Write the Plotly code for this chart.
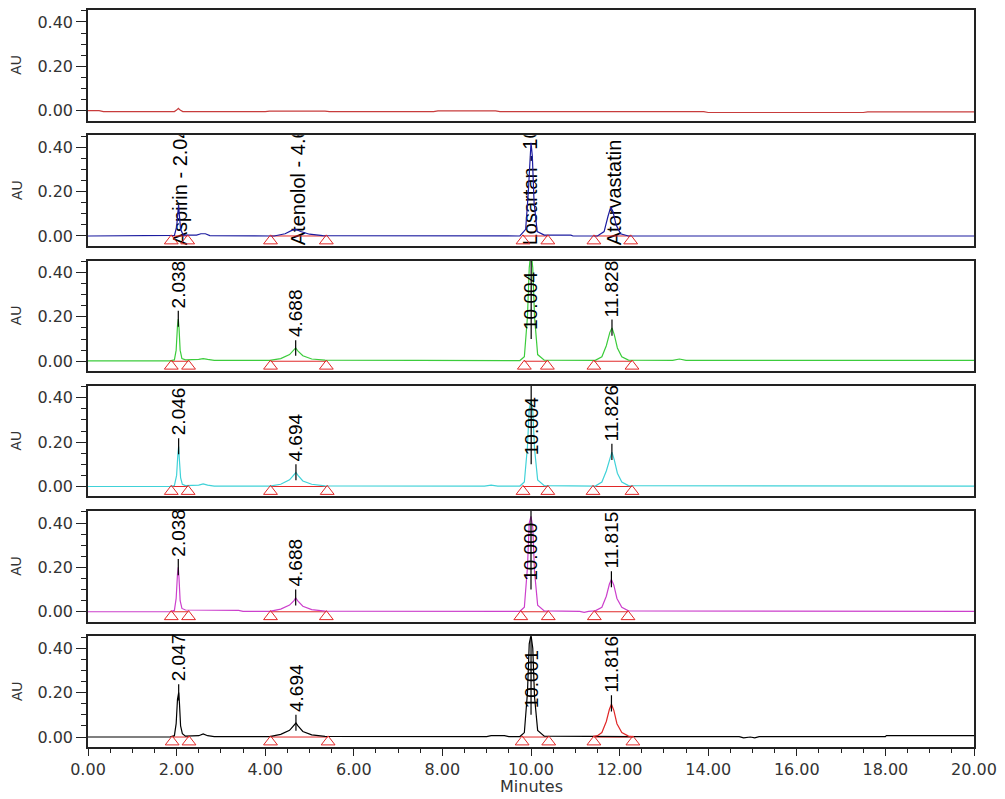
import plotly.graph_objects as go
from plotly.subplots import make_subplots

# ---------------- data ----------------
# Panel 1 (red) chromatogram
p1_t = [0.0, 0.25, 0.35, 1.95, 2.0, 2.04, 2.08, 2.14, 4.0, 4.1, 5.35, 5.45, 7.8, 7.9, 9.2, 9.3, 13.9, 14.0, 17.5, 17.6, 20.0]
p1_v = [0.0, 0.0, -0.004, -0.004, 0.003, 0.011, 0.003, -0.004, -0.004, -0.002, -0.002, -0.004, -0.004, -0.001, -0.001, -0.004, -0.004, -0.008, -0.008, -0.005, -0.005]

# Panel 2 (blue)
p2_t = [0.0, 1.85, 1.95, 2.0, 2.03, 2.045, 2.06, 2.09, 2.15, 2.45, 2.55, 2.65, 2.75, 4.2, 4.45, 4.6, 4.69, 4.8, 5.0, 5.3,
        9.75, 9.88, 9.94, 9.98, 10.0, 10.03, 10.07, 10.14, 10.3, 10.9, 10.95, 11.5, 11.65, 11.74, 11.8, 11.85, 11.92, 12.02, 12.2, 20.0]
p2_v = [0.0, 0.0, 0.003, 0.04, 0.12, 0.14, 0.10, 0.03, 0.004, 0.004, 0.01, 0.01, 0.002, 0.0, 0.01, 0.025, 0.03, 0.02, 0.008, 0.002,
        0.0, 0.03, 0.2, 0.38, 0.42, 0.36, 0.15, 0.02, 0.004, 0.004, 0.0, 0.0, 0.02, 0.09, 0.13, 0.11, 0.05, 0.01, 0.0, 0.0]

# Panel 3 (green)
p3_t = [0.0, 1.85, 1.95, 1.99, 2.02, 2.038, 2.055, 2.08, 2.12, 2.2, 2.5, 2.6, 2.7, 2.85, 4.1, 4.35, 4.55, 4.65, 4.688, 4.73, 4.85, 5.05, 5.35,
        9.75, 9.85, 9.92, 9.96, 10.0, 10.04, 10.08, 10.15, 10.3, 11.45, 11.6, 11.7, 11.78, 11.828, 11.88, 11.95, 12.05, 12.2, 13.2, 13.35, 13.5, 20.0]
p3_v = [0.002, 0.002, 0.006, 0.05, 0.16, 0.19, 0.15, 0.05, 0.012, 0.006, 0.008, 0.012, 0.008, 0.004, 0.004, 0.012, 0.03, 0.05, 0.06, 0.048, 0.025, 0.01, 0.005,
        0.003, 0.02, 0.2, 0.42, 0.5, 0.42, 0.2, 0.03, 0.005, 0.004, 0.02, 0.07, 0.13, 0.15, 0.12, 0.06, 0.02, 0.005, 0.004, 0.01, 0.004, 0.004]

# Panel 4 (cyan)
p4_t = [0.0, 1.85, 1.95, 2.0, 2.03, 2.046, 2.06, 2.09, 2.13, 2.2, 2.5, 2.6, 2.7, 2.85, 4.1, 4.35, 4.55, 4.65, 4.694, 4.74, 4.85, 5.05, 5.35,
        8.95, 9.1, 9.25, 9.75, 9.85, 9.92, 9.96, 10.004, 10.04, 10.08, 10.15, 10.3, 11.45, 11.6, 11.7, 11.78, 11.826, 11.88, 11.95, 12.05, 12.2, 20.0]
p4_v = [0.0, 0.0, 0.004, 0.05, 0.15, 0.18, 0.13, 0.04, 0.01, 0.004, 0.006, 0.012, 0.006, 0.002, 0.002, 0.01, 0.03, 0.05, 0.063, 0.05, 0.025, 0.01, 0.003,
        0.002, 0.006, 0.002, 0.002, 0.02, 0.18, 0.35, 0.39, 0.34, 0.17, 0.03, 0.004, 0.002, 0.02, 0.07, 0.13, 0.155, 0.12, 0.06, 0.02, 0.004, 0.002]

# Panel 5 (magenta)
p5_t = [0.0, 1.85, 1.95, 1.99, 2.02, 2.038, 2.055, 2.08, 2.12, 2.2, 3.4, 3.5, 4.1, 4.35, 4.55, 4.65, 4.688, 4.73, 4.85, 5.05, 5.35,
        9.75, 9.85, 9.92, 9.96, 10.0, 10.04, 10.08, 10.15, 10.3, 11.1, 11.2, 11.3, 11.45, 11.6, 11.7, 11.77, 11.815, 11.87, 11.94, 12.05, 12.2, 20.0]
p5_v = [0.0, 0.0, 0.006, 0.06, 0.17, 0.2, 0.15, 0.05, 0.015, 0.008, 0.006, 0.002, 0.002, 0.012, 0.03, 0.05, 0.063, 0.05, 0.025, 0.01, 0.003,
        0.002, 0.02, 0.2, 0.4, 0.43, 0.38, 0.18, 0.03, 0.004, 0.002, -0.003, 0.002, 0.004, 0.02, 0.07, 0.125, 0.145, 0.12, 0.06, 0.02, 0.004, 0.002]

# Panel 6 (black)
p6_t = [0.0, 1.85, 1.95, 1.99, 2.02, 2.047, 2.065, 2.09, 2.13, 2.2, 2.5, 2.6, 2.7, 2.85, 4.1, 4.35, 4.55, 4.65, 4.694, 4.74, 4.85, 5.05, 5.35,
        9.0, 9.1, 9.4, 9.5, 9.75, 9.85, 9.92, 9.96, 10.0, 10.04, 10.08, 10.15, 10.3, 11.4, 12.3, 14.7, 14.8, 14.95, 15.05, 15.15, 18.0, 18.02, 20.0]
p6_v = [0.0, 0.0, 0.006, 0.06, 0.17, 0.2, 0.15, 0.05, 0.015, 0.004, 0.006, 0.014, 0.006, 0.002, 0.002, 0.012, 0.03, 0.05, 0.063, 0.05, 0.025, 0.01, 0.003,
        0.002, 0.006, 0.006, 0.002, 0.002, 0.02, 0.2, 0.42, 0.46, 0.4, 0.18, 0.03, 0.004, 0.002, 0.002, 0.002, -0.004, 0.0, -0.004, 0.002, 0.002, 0.006, 0.006]
# red-coloured peak in panel 6
p6r_t = [11.4, 11.5, 11.6, 11.7, 11.77, 11.816, 11.87, 11.94, 12.05, 12.2, 12.3]
p6r_v = [0.002, 0.006, 0.02, 0.07, 0.125, 0.148, 0.12, 0.06, 0.02, 0.004, 0.002]

# integration marks (peak start / end) per panel
p2_marks = [[1.88, 2.25], [4.12, 5.38], [9.82, 10.38], [11.42, 12.25]]
p3_marks = [[1.88, 2.27], [4.12, 5.38], [9.85, 10.37], [11.42, 12.28]]
p4_marks = [[1.88, 2.26], [4.12, 5.4], [9.82, 10.38], [11.4, 12.28]]
p5_marks = [[1.88, 2.27], [4.12, 5.38], [9.77, 10.39], [11.43, 12.19]]
p6_marks = [[1.9, 2.28], [4.12, 5.42], [9.8, 10.4], [11.42, 12.3]]

# peak labels (panels 3-6)
p3_lab_t = [2.038, 4.688, 10.004, 11.828]
p3_lab = ["2.038", "4.688", "10.004", "11.828"]
p3_lab_y = [0.235, 0.103, 0.135, 0.195]
p3_tick_lo = [0.155, 0.025, 0.10, 0.115]
p3_tick_hi = [0.228, 0.095, 0.46, 0.188]

p4_lab_t = [2.046, 4.694, 10.004, 11.826]
p4_lab = ["2.046", "4.694", "10.004", "11.826"]
p4_lab_y = [0.225, 0.108, 0.135, 0.2]
p4_tick_lo = [0.145, 0.028, 0.10, 0.12]
p4_tick_hi = [0.218, 0.1, 0.46, 0.193]

p5_lab_t = [2.038, 4.688, 10.000, 11.815]
p5_lab = ["2.038", "4.688", "10.000", "11.815"]
p5_lab_y = [0.245, 0.108, 0.135, 0.19]
p5_tick_lo = [0.165, 0.028, 0.10, 0.11]
p5_tick_hi = [0.238, 0.1, 0.46, 0.183]

p6_lab_t = [2.047, 4.694, 10.001, 11.816]
p6_lab = ["2.047", "4.694", "10.001", "11.816"]
p6_lab_y = [0.245, 0.108, 0.125, 0.195]
p6_tick_lo = [0.165, 0.028, 0.10, 0.115]
p6_tick_hi = [0.238, 0.1, 0.46, 0.188]

# compound labels in panel 2 (clipped by the panel)
p2_lab_t = [2.06, 4.72, 9.97, 11.86]
p2_lab = ["Aspirin - 2.04", "Atenolol - 4.69", "Losartan - 10.00", "Atorvastatin - 11.83"]

y_tickvals = [0.0, 0.2, 0.4]
y_ticktext = ["0.00", "0.20", "0.40"]
x_tickvals = [0, 2, 4, 6, 8, 10, 12, 14, 16, 18, 20]
x_ticktext = ["0.00", "2.00", "4.00", "6.00", "8.00", "10.00", "12.00", "14.00", "16.00", "18.00", "20.00"]

# ---------------- figure ----------------
W, H = 1005, 799
ML, MR, MT, MB = 88, 27, 8, 52
PH = H - MT - MB
panel_h = 111
pitch = (PH - panel_h) / 5.0

fig = make_subplots(rows=6, cols=1, shared_xaxes=True)

colors = ["#c83c3c", "#1c1ca0", "#3ccc3c", "#40d2d8", "#cc40cc", "#000000"]
series = [(p1_t, p1_v), (p2_t, p2_v), (p3_t, p3_v), (p4_t, p4_v), (p5_t, p5_v), (p6_t, p6_v)]
marks = [None, p2_marks, p3_marks, p4_marks, p5_marks, p6_marks]
RED = "#e02828"
LABEL_FONT = "Liberation Sans, Arial"

for i, (tt, vv) in enumerate(series):
    r = i + 1
    if i == 1:
        fig.add_trace(go.Bar(x=p2_lab_t, y=[0.002] * len(p2_lab_t), base=[-0.044] * len(p2_lab_t), width=0.02,
                             marker=dict(color="rgba(0,0,0,0)", line=dict(width=0)),
                             text=p2_lab, textposition="outside", textangle=-90, constraintext="none",
                             cliponaxis=True, textfont=dict(family=LABEL_FONT, size=20, color="#000000"),
                             hoverinfo="skip", showlegend=False), row=r, col=1)
    if marks[i] is not None:
        bx, by, mx, my = [], [], [], []
        for a, b in marks[i]:
            bx += [a, b, None]
            by += [0.0, 0.0, None]
            mx += [a, b]
            my += [-0.022, -0.022]
        fig.add_trace(go.Scatter(x=bx, y=by, mode="lines", line=dict(color=RED, width=1),
                                 hoverinfo="skip", showlegend=False), row=r, col=1)
    fig.add_trace(go.Scatter(x=tt, y=vv, mode="lines", line=dict(color=colors[i], width=1.2),
                             hoverinfo="skip", showlegend=False), row=r, col=1)
    if i == 5:
        fig.add_trace(go.Scatter(x=p6r_t, y=p6r_v, mode="lines", line=dict(color=RED, width=1.2),
                                 hoverinfo="skip", showlegend=False), row=r, col=1)
    if marks[i] is not None:
        fig.add_trace(go.Scatter(x=mx, y=my, mode="markers",
                                 marker=dict(symbol="triangle-up-open", size=12, color=RED, line=dict(width=1, color=RED)),
                                 hoverinfo="skip", showlegend=False), row=r, col=1)

labels = [None, None,
          (p3_lab_t, p3_lab, p3_lab_y, p3_tick_lo, p3_tick_hi),
          (p4_lab_t, p4_lab, p4_lab_y, p4_tick_lo, p4_tick_hi),
          (p5_lab_t, p5_lab, p5_lab_y, p5_tick_lo, p5_tick_hi),
          (p6_lab_t, p6_lab, p6_lab_y, p6_tick_lo, p6_tick_hi)]

annotations = []
for i, lab in enumerate(labels):
    if lab is None:
        continue
    r = i + 1
    lt, ltxt, ly, lo, hi = lab
    tx, ty = [], []
    for t, a, b in zip(lt, lo, hi):
        tx += [t, t, None]
        ty += [a, b, None]
    fig.add_trace(go.Scatter(x=tx, y=ty, mode="lines", line=dict(color="#000000", width=1.2),
                             hoverinfo="skip", showlegend=False), row=r, col=1)
    for t, s, y in zip(lt, ltxt, ly):
        annotations.append(dict(x=t, y=y, xref="x%d" % r, yref="y%d" % r, text=s, showarrow=False,
                                textangle=-90, xanchor="center", yanchor="bottom",
                                font=dict(family=LABEL_FONT, size=19, color="#000000"),
                                borderpad=0))

axis_line = dict(showline=True, linecolor="#222222", linewidth=1.5, mirror=True, zeroline=False, showgrid=False)
TICK_FONT = dict(family="DejaVu Sans", size=16, color="#333333")

for i in range(6):
    r = i + 1
    top_px = MT + i * pitch
    bot_px = top_px + panel_h
    d0 = 1 - (bot_px - MT) / PH
    d1 = 1 - (top_px - MT) / PH
    fig.update_yaxes(row=r, col=1, domain=[max(0, d0), min(1, d1)], range=[-0.045, 0.454],
                     tickmode="array", tickvals=y_tickvals, ticktext=y_ticktext,
                     ticks="outside", ticklen=10, tickwidth=1, tickcolor="#222222",
                     minor=dict(ticks="outside", ticklen=5, tickwidth=1, tickcolor="#222222", dtick=0.05, tick0=0, showgrid=False),
                     tickfont=TICK_FONT, fixedrange=True, **axis_line)
    annotations.append(dict(x=(16 - ML) / (W - ML - MR), y=(d0 + d1) / 2, xref="paper", yref="paper", text="AU",
                            showarrow=False, textangle=-90, xanchor="center", yanchor="middle",
                            font=dict(family=LABEL_FONT, size=14, color="#333333")))
    xa = dict(range=[0, 20], fixedrange=True, **axis_line)
    if i == 5:
        xa.update(tickmode="array", tickvals=x_tickvals, ticktext=x_ticktext, ticks="outside", ticklen=7,
                  tickwidth=1, tickcolor="#222222", showticklabels=True,
                  minor=dict(ticks="outside", ticklen=4, tickwidth=1, tickcolor="#222222", dtick=0.5, tick0=0, showgrid=False),
                  tickfont=TICK_FONT)
    else:
        xa.update(ticks="", showticklabels=False)
    fig.update_xaxes(row=r, col=1, **xa)

annotations.append(dict(x=0.5, y=1 - (787 - MT) / PH, xref="paper", yref="paper", text="Minutes", showarrow=False,
                        xanchor="center", yanchor="middle", font=TICK_FONT))

fig.update_layout(width=W, height=H, margin=dict(l=ML, r=MR, t=MT, b=MB), paper_bgcolor="white",
                  plot_bgcolor="white", showlegend=False, annotations=annotations, bargap=0)

fig.write_html("out.html", config={"displayModeBar": False},
               post_script="document.body.style.margin='0px';document.body.style.padding='0px';")
